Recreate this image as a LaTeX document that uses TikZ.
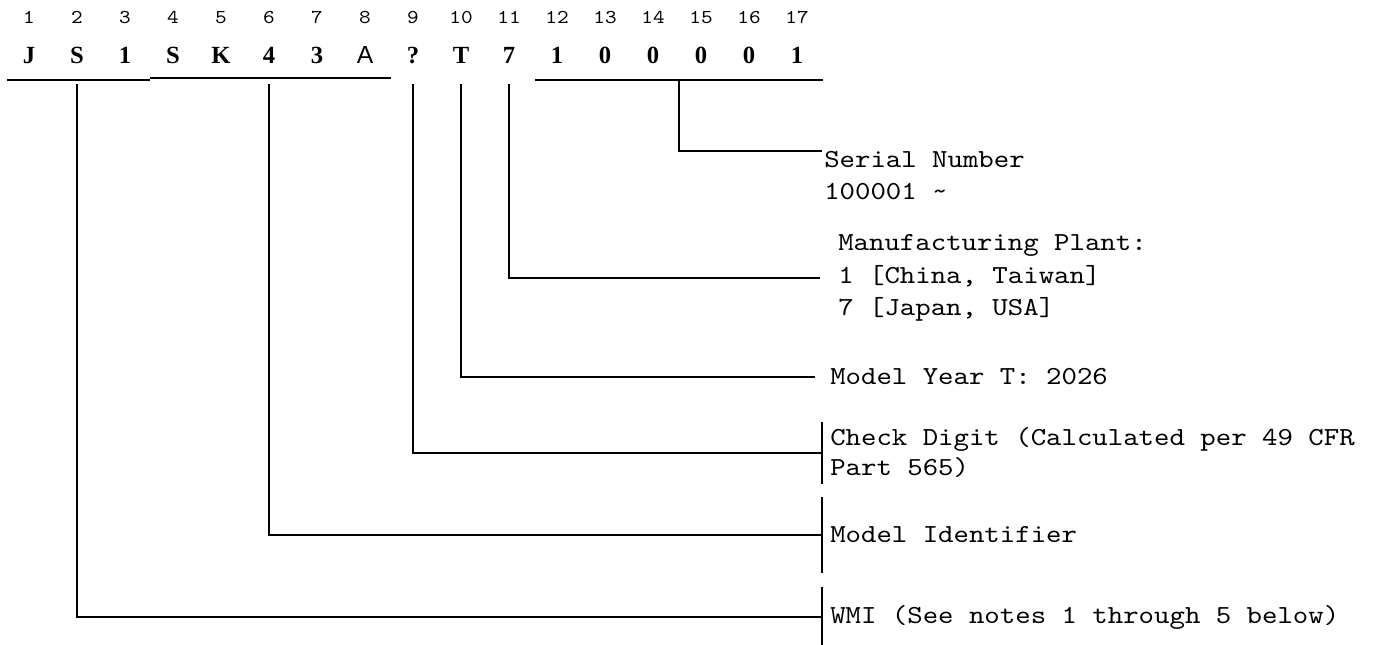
\documentclass[tikz,border=0pt]{standalone}
\usepackage{fontspec}
\usetikzlibrary{positioning}
\setmainfont{Liberation Serif}
\newfontfamily\vinserif{Liberation Serif}
\newfontfamily\vinsans{Liberation Sans}
\newfontfamily\vinmono{lmmono10-regular.otf}[FakeStretch=1.13]

\tikzset{
    vinchar/.style={font=\vinserif\bfseries\fontsize{18.5pt}{20pt}\selectfont,
        inner sep=0pt, text height=13.5pt, text depth=15.75pt},
    vinnum/.style={font=\vinmono\fontsize{14.7pt}{16pt}\selectfont,
        inner sep=0pt, anchor=base},
    desc/.style={font=\vinmono\fontsize{19.5pt}{24pt}\selectfont,
        inner ysep=0pt, align=left},
    wire/.style={line width=1.6pt}
}

\begin{document}
\begin{tikzpicture}[x=0.75pt, y=-0.75pt, node distance=36pt, on grid]
        \useasboundingbox (0,0) rectangle (1398,644);

        % Draw the characters
        \node[vinchar, anchor=base]    (c1)  at (29,63) {J};
        \node[vinchar, right=of c1]    (c2)  {S};
        \node[vinchar, right=of c2]    (c3)  {1};
        \node[vinchar, right=of c3]    (c4)  {S};
        \node[vinchar, right=of c4]    (c5)  {K};
        \node[vinchar, right=of c5]    (c6)  {4};
        \node[vinchar, right=of c6]    (c7)  {3};
        \node[vinchar, right=of c7, font=\vinsans\fontsize{18.5pt}{20pt}\selectfont] (c8) {A};
        \node[vinchar, right=of c8]    (c9)  {?};
        \node[vinchar, right=of c9]    (c10) {T};
        \node[vinchar, right=of c10]   (c11) {7};
        \node[vinchar, right=of c11]   (c12) {1};
        \node[vinchar, right=of c12]   (c13) {0};
        \node[vinchar, right=of c13]   (c14) {0};
        \node[vinchar, right=of c14]   (c15) {0};
        \node[vinchar, right=of c15]   (c16) {0};
        \node[vinchar, right=of c16]   (c17) {1};

        % Draw the positions
        \node[vinnum] (n1)  at (c1 |- 0,23)  {1};
        \node[vinnum] (n2)  at (c2 |- 0,23)  {2};
        \node[vinnum] (n3)  at (c3 |- 0,23)  {3};
        \node[vinnum] (n4)  at (c4 |- 0,23)  {4};
        \node[vinnum] (n5)  at (c5 |- 0,23)  {5};
        \node[vinnum] (n6)  at (c6 |- 0,23)  {6};
        \node[vinnum] (n7)  at (c7 |- 0,23)  {7};
        \node[vinnum] (n8)  at (c8 |- 0,23)  {8};
        \node[vinnum] (n9)  at (c9 |- 0,23)  {9};
        \node[vinnum] (n10) at (c10 |- 0,23) {10};
        \node[vinnum] (n11) at (c11 |- 0,23) {11};
        \node[vinnum] (n12) at (c12 |- 0,23) {12};
        \node[vinnum] (n13) at (c13 |- 0,23) {13};
        \node[vinnum] (n14) at (c14 |- 0,23) {14};
        \node[vinnum] (n15) at (c15 |- 0,23) {15};
        \node[vinnum] (n16) at (c16 |- 0,23) {16};
        \node[vinnum] (n17) at (c17 |- 0,23) {17};

        % Draw the underlines
        \draw[wire] (7,80) -- (150,80);
        \draw[wire] (150,78) -- (391,78);
        \draw[wire] (535,80) -- coordinate[midway] (serialmid) (823,80);

        % Draw the descriptions
        \node[desc, anchor=north west, inner xsep=1.5pt] (serial) at (822,151)
            {Serial Number\\100001 \textasciitilde};
        \node[desc, anchor=west, inner xsep=13.5pt, font=\vinmono\fontsize{19.5pt}{24.4pt}\selectfont] (plant) at (820,278)
            {Manufacturing Plant:\\1 [China, Taiwan]\\7 [Japan, USA]};
        \node[desc, anchor=west, inner xsep=11.25pt] (year) at (815,377)
            {Model Year T: 2026};
        \node[desc, anchor=west, inner xsep=6pt, minimum height=45.75pt, font=\vinmono\fontsize{19.5pt}{22.5pt}\selectfont] (check) at (822,453)
            {Check Digit (Calculated per 49 CFR\\Part 565)};
        \node[desc, anchor=west, inner xsep=6pt, minimum height=56.25pt] (model) at (822,535)
            {Model Identifier};
        \node[desc, anchor=west, inner xsep=6pt, minimum height=45pt] (wmi) at (822,617)
            {WMI (See notes 1 through 5 below)};

        % Draw the brackets
        \draw[wire] (check.north west) -- (check.south west);
        \draw[wire] (model.north west) -- (model.south west);
        \draw[wire] (wmi.north west) -- (wmi.south west);

        % Connect the characters with the descriptions
        \draw[wire] (serialmid) |- (serial.north west);
        \draw[wire] (c11.south) |- (plant.west);
        \draw[wire] (c10.south) |- (year.west);
        \draw[wire] (c9.south) |- (check.west);
        \draw[wire] (c6.south) |- (model.west);
        \draw[wire] (c2.south) |- (wmi.west);
    \end{tikzpicture}
\end{document}
